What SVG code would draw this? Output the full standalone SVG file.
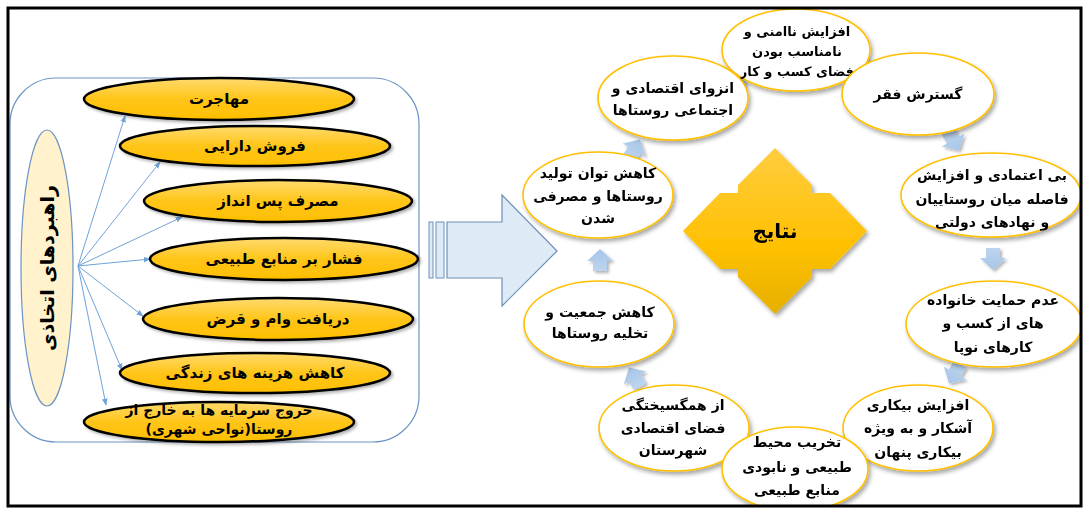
<svg xmlns="http://www.w3.org/2000/svg" width="1083" height="512" viewBox="0 0 1083 512">
<defs>
<style>
.t{font-family:"DejaVu Sans",sans-serif;font-weight:bold;font-size:14px;fill:#000;text-anchor:middle;direction:rtl}
.g{font-size:15px}
.s{font-size:13px}
.ov{fill:#fff;stroke:#FFC000;stroke-width:1.6}
.gold{fill:url(#gg);stroke:#000;stroke-width:2.5}
.ln{stroke:#6FA3D8;stroke-width:1;fill:none}
</style>
<linearGradient id="gg" x1="0" y1="0" x2="0" y2="1"><stop offset="0" stop-color="#FFDB6E"/><stop offset="0.5" stop-color="#FFC519"/><stop offset="1" stop-color="#FFBF00"/></linearGradient>
<linearGradient id="ng" x1="0" y1="0" x2="0" y2="1"><stop offset="0" stop-color="#FFCD40"/><stop offset="0.6" stop-color="#FFC000"/><stop offset="1" stop-color="#E5B000"/></linearGradient>
<linearGradient id="bg" x1="0" y1="0" x2="0" y2="1"><stop offset="0" stop-color="#A6C6E8"/><stop offset="1" stop-color="#BDD4EE"/></linearGradient>
<filter id="sh" x="-20%" y="-20%" width="140%" height="150%"><feDropShadow dx="2" dy="3" stdDeviation="2" flood-color="#000" flood-opacity="0.35"/></filter>
<filter id="sh2" x="-20%" y="-20%" width="140%" height="150%"><feDropShadow dx="2" dy="2" stdDeviation="1.5" flood-color="#000" flood-opacity="0.3"/></filter>
<marker id="ah" viewBox="0 0 10 10" refX="9" refY="5" markerWidth="7" markerHeight="7" orient="auto"><path d="M0,1 L10,5 L0,9 Z" fill="#6FA3D8"/></marker>
<path id="sa" d="M0,-12 L13,0 L7,0 L7,10 L-7,10 L-7,0 L-13,0 Z"/>
<clipPath id="fc"><rect x="9" y="9" width="1072" height="496"/></clipPath>
</defs>
<rect x="0" y="0" width="1083" height="512" fill="#fff"/>
<g clip-path="url(#fc)">
<g id="left-container">
<rect x="10" y="78" width="409" height="364" rx="46" fill="#fff" stroke="#6C93C4" stroke-width="1.2"/>
</g>
<g id="strategies">
<ellipse cx="47" cy="268" rx="26" ry="138" fill="#FFF2CC" stroke="#6C93C4" stroke-width="1.2"/>
<text class="t" x="0" y="0" style="font-size:19px" transform="translate(54,268) rotate(-90)">راهبردهای اتخاذی</text>
</g>
<g id="connectors-left">
<line class="ln" x1="78" y1="266" x2="125" y2="116" marker-end="url(#ah)"/>
<line class="ln" x1="78" y1="266" x2="160" y2="162" marker-end="url(#ah)"/>
<line class="ln" x1="78" y1="266" x2="182" y2="217" marker-end="url(#ah)"/>
<line class="ln" x1="78" y1="266" x2="150" y2="259" marker-end="url(#ah)"/>
<line class="ln" x1="78" y1="266" x2="143" y2="316" marker-end="url(#ah)"/>
<line class="ln" x1="78" y1="266" x2="122" y2="370" marker-end="url(#ah)"/>
<line class="ln" x1="78" y1="266" x2="106" y2="405" marker-end="url(#ah)"/>
</g>
<g id="s1"><ellipse class="gold" cx="219" cy="99" rx="135" ry="21" filter="url(#sh2)"/><text class="t g" x="219" y="104">مهاجرت</text></g>
<g id="s2"><ellipse class="gold" cx="255" cy="146" rx="135" ry="20" filter="url(#sh2)"/><text class="t g" x="255" y="151">فروش دارایی</text></g>
<g id="s3"><ellipse class="gold" cx="278" cy="201" rx="134" ry="21" filter="url(#sh2)"/><text class="t g" x="278" y="206">مصرف پس انداز</text></g>
<g id="s4"><ellipse class="gold" cx="284" cy="259" rx="134" ry="21" filter="url(#sh2)"/><text class="t g" x="284" y="264">فشار بر منابع طبیعی</text></g>
<g id="s5"><ellipse class="gold" cx="278" cy="319" rx="135" ry="21" filter="url(#sh2)"/><text class="t g" x="278" y="324">دریافت وام و قرض</text></g>
<g id="s6"><ellipse class="gold" cx="255" cy="373" rx="135" ry="20" filter="url(#sh2)"/><text class="t g" x="255" y="378">کاهش هزینه های زندگی</text></g>
<g id="s7"><ellipse class="gold" cx="219" cy="422" rx="135" ry="20" filter="url(#sh2)"/><text class="t" x="219" y="415">خروج سرمایه ها  به خارج از</text><text class="t" x="219" y="434">روستا(نواحی شهری)</text></g>
<g id="big-arrow">
<rect x="429" y="222" width="4" height="56" fill="#DEEBF7" stroke="#6C8FB8" stroke-width="1"/>
<rect x="436" y="222" width="8" height="56" fill="#DEEBF7" stroke="#6C8FB8" stroke-width="1"/>
<path d="M447,222 H502 V195 L557,251 L502,306 V278 H447 Z" fill="#DEEBF7" stroke="#6C8FB8" stroke-width="1.2"/>
</g>
<g id="connectors-cycle" fill="url(#bg)" filter="url(#sh2)">
<use href="#sa" transform="translate(600,261)"/>
<use href="#sa" transform="translate(634,150) rotate(30)"/>
<use href="#sa" transform="translate(735,86) rotate(65)"/>
<use href="#sa" transform="translate(860,64) rotate(110)"/>
<use href="#sa" transform="translate(953,140) rotate(150)"/>
<use href="#sa" transform="translate(993,258) rotate(180)"/>
<use href="#sa" transform="translate(955,373) rotate(210)"/>
<use href="#sa" transform="translate(852,440) rotate(250)"/>
<use href="#sa" transform="translate(733,440) rotate(290)"/>
<use href="#sa" transform="translate(635,378) rotate(330)"/>
</g>
<g id="results">
<path d="M775,148 L812,185 L812,193 L830,193 L867,231 L830,269 L812,269 L812,277 L775,314 L738,277 L738,269 L720,269 L683,231 L720,193 L738,193 L738,185 Z" fill="url(#ng)" filter="url(#sh)"/>
<text class="t" x="775" y="238" style="font-size:20px">نتایج</text>
</g>
<g id="nA"><ellipse class="ov" cx="796" cy="50" rx="74" ry="41" filter="url(#sh)"/><text class="t s" x="797" y="36">افزایش ناامنی و</text><text class="t s" x="797" y="56">نامناسب بودن</text><text class="t s" x="797" y="76">فضای کسب و کار</text></g>
<g id="nB"><ellipse class="ov" cx="918" cy="94" rx="76" ry="41" filter="url(#sh)"/><text class="t" x="918" y="99">گسترش فقر</text></g>
<g id="nC"><ellipse class="ov" cx="673" cy="98" rx="75" ry="42" filter="url(#sh)"/><text class="t" x="673" y="93">انزوای اقتصادی و</text><text class="t" x="673" y="115">اجتماعی روستاها</text></g>
<g id="nD"><ellipse class="ov" cx="598" cy="195" rx="75" ry="43" filter="url(#sh)"/><text class="t" x="598" y="178">کاهش توان تولید</text><text class="t" x="598" y="201">روستاها و مصرفی</text><text class="t" x="598" y="223">شدن</text></g>
<g id="nE"><ellipse class="ov" cx="991" cy="195" rx="90" ry="42" filter="url(#sh)"/><text class="t" x="992" y="180">بی اعتمادی و افزایش</text><text class="t" x="992" y="204">فاصله میان روستاییان</text><text class="t" x="992" y="227">و نهادهای دولتی</text></g>
<g id="nF"><ellipse class="ov" cx="599" cy="324" rx="75" ry="43" filter="url(#sh)"/><text class="t" x="600" y="317">کاهش جمعیت و</text><text class="t" x="600" y="338">تخلیه روستاها</text></g>
<g id="nG"><ellipse class="ov" cx="994" cy="324" rx="88" ry="43" filter="url(#sh)"/><text class="t" x="993" y="305">عدم حمایت خانواده</text><text class="t" x="993" y="328">های از کسب و</text><text class="t" x="993" y="352">کارهای نوپا</text></g>
<g id="nH"><ellipse class="ov" cx="674" cy="428" rx="75" ry="43" filter="url(#sh)"/><text class="t" x="673" y="410">از همگسیختگی</text><text class="t" x="673" y="433">فضای اقتصادی</text><text class="t" x="673" y="455">شهرستان</text></g>
<g id="nI"><ellipse class="ov" cx="918" cy="428" rx="75" ry="43" filter="url(#sh)"/><text class="t" x="918" y="410">افزایش بیکاری</text><text class="t" x="918" y="433">آشکار و به ویژه</text><text class="t" x="918" y="457">بیکاری پنهان</text></g>
<g id="nJ"><ellipse class="ov" cx="795" cy="469" rx="73" ry="42" filter="url(#sh)"/><text class="t" x="797" y="447">تخریب محیط</text><text class="t" x="797" y="472">طبیعی و نابودی</text><text class="t" x="797" y="495">منابع طبیعی</text></g>
</g>
<rect x="8" y="8" width="1073" height="498" fill="none" stroke="#000" stroke-width="3"/>
</svg>
